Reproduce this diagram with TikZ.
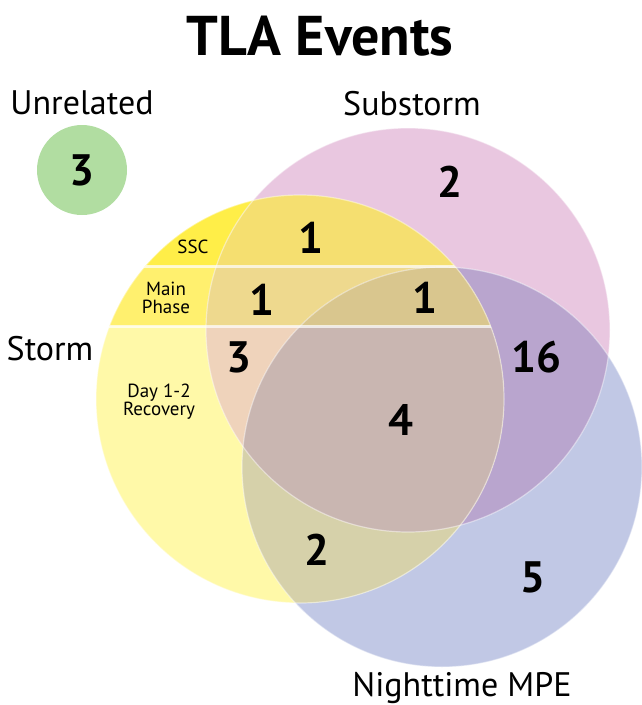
\documentclass[tikz,border=0pt]{standalone}
\usepackage{fontspec}
\setmainfont{PT Sans}
\usetikzlibrary{positioning}

\definecolor{stormrec}{HTML}{FFF9A8}
\definecolor{stormmain}{HTML}{FFF06E}
\definecolor{stormssc}{HTML}{FFEE48}
\definecolor{subpink}{HTML}{E9C7E0}
\definecolor{mpeblue}{HTML}{C1C8E5}
\definecolor{submpe}{HTML}{B9A5CE}
\definecolor{recsub}{HTML}{EFD3BB}
\definecolor{mainsub}{HTML}{EED98E}
\definecolor{sscsub}{HTML}{F5DF70}
\definecolor{recmpe}{HTML}{D6D1AA}
\definecolor{recall}{HTML}{C9B6B1}
\definecolor{mainall}{HTML}{D9C68E}
\definecolor{unrelgreen}{HTML}{B1DDA1}

\def\rstorm{204pt}
\def\rsub{202pt}
\def\rmpe{200pt}

\begin{document}
\begin{tikzpicture}[
        x=1pt, y=-1pt,
        every node/.style={inner sep=0pt, align=center},
        setlabel/.style={font=\fontsize{34}{36}\selectfont},
        count/.style={font=\bfseries\fontsize{44}{44}\selectfont},
        phase/.style={font=\fontsize{19}{18}\selectfont},
        rim/.style={draw=white, draw opacity=.45, line width=1.2pt},
        bandline/.style={draw=white, draw opacity=.7, line width=3pt}
    ]
    \useasboundingbox (0,0) rectangle (642,705);

    % Circle centres
    \coordinate (storm) at (300,399);
    \coordinate (substorm) at (408,330);
    \coordinate (mpe) at (442,467);

    % Substorm and MPE
    \fill[subpink] (substorm) circle[radius=\rsub];
    \fill[mpeblue] (mpe) circle[radius=\rmpe];
    \begin{scope}
        \clip (substorm) circle[radius=\rsub];
        \fill[submpe] (mpe) circle[radius=\rmpe];
    \end{scope}

    % Storm with its phase bands
    \begin{scope}
        \clip (storm) circle[radius=\rstorm];
        \fill[stormrec] (0,0) rectangle (642,705);
        \fill[stormmain] (0,266) rectangle (642,326);
        \fill[stormssc] (0,0) rectangle (642,266);
        \begin{scope}
            \clip (mpe) circle[radius=\rmpe];
            \fill[recmpe] (0,0) rectangle (642,705);
        \end{scope}
        \begin{scope}
            \clip (substorm) circle[radius=\rsub];
            \fill[recsub] (0,0) rectangle (642,705);
            \fill[mainsub] (0,266) rectangle (642,326);
            \fill[sscsub] (0,0) rectangle (642,266);
            \clip (mpe) circle[radius=\rmpe];
            \fill[recall] (0,0) rectangle (642,705);
            \fill[mainall] (0,266) rectangle (642,326);
        \end{scope}
        \draw[bandline] (0,266) -- (642,266);
        \draw[bandline] (0,326) -- (642,326);
    \end{scope}

    % Rims
    \draw[rim] (storm) circle[radius=\rstorm];
    \draw[rim] (substorm) circle[radius=\rsub];
    \draw[rim] (mpe) circle[radius=\rmpe];

    % Unrelated
    \node (unrelated) [circle, fill=unrelgreen, minimum size=90pt, count] at (82,170) {3};
    \node (unrellabel) [setlabel, above=10pt of unrelated] {Unrelated};

    % Labels
    \node (title) at (320,36) {\bfseries\fontsize{56}{60}\selectfont TLA Events};
    \node (sublabel) [setlabel] at (412,104) {Substorm};
    \node (stormlabel) [setlabel] at (50,349) {Storm};
    \node (mpelabel) [setlabel] at (462,688) {Nighttime MPE};

    \node (ssc) [phase] at (193,247) {SSC};
    \node (mainphase) [phase] at (166,298) {Main\\Phase};
    \node (recovery) [phase] at (159,402) {Day 1-2\\Recovery};

    % Counts
    \node (nsub) [count] at (450,182) {2};
    \node (nssc) [count] at (311,238) {1};
    \node (nmainsub) [count] at (262,300) {1};
    \node (nmainall) [count] at (425,298) {1};
    \node (nrecsub) [count] at (239,357) {3};
    \node (nsubmpe) [count] at (536,357) {16};
    \node (nall) [count] at (401,420) {4};
    \node (nrecmpe) [count] at (317,550) {2};
    \node (nmpe) [count] at (533,577) {5};

\end{tikzpicture}
\end{document}
